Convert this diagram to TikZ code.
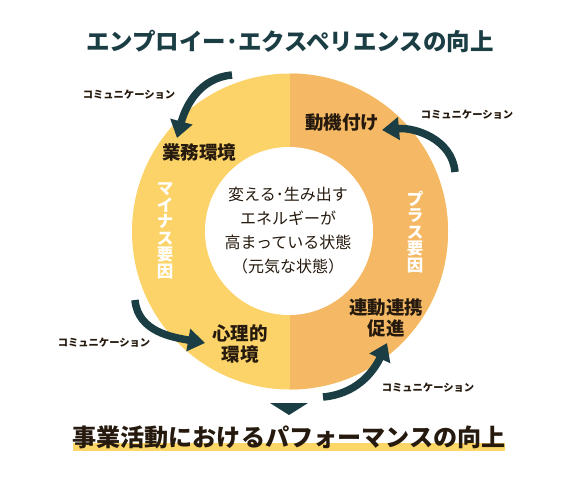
\documentclass[tikz,border=0pt]{standalone}
\usepackage{fontspec}
\setmainfont{Noto Sans CJK JP}
\usetikzlibrary{arrows.meta}
\definecolor{tealdark}{RGB}{27,61,68}
\definecolor{ringyellow}{RGB}{251,211,104}
\definecolor{ringorange}{RGB}{245,184,100}
\definecolor{inkbrown}{RGB}{38,26,14}
\definecolor{uline}{RGB}{252,214,102}
\begin{document}
\begin{tikzpicture}[x=1pt, y=1pt,
  every node/.style={align=center, inner sep=0pt},
  lbl/.style={font=\bfseries\fontsize{18.5}{21}\selectfont, text=inkbrown},
  vlbl/.style={font=\bfseries\fontsize{16.5}{16.5}\selectfont, text=white},
  comm/.style={font=\bfseries\fontsize{10.3}{12}\selectfont, text=inkbrown},
  flow/.style={draw=tealdark, line width=7.5pt, -{Triangle[length=17pt,width=22pt]}}]
\useasboundingbox (0,0) rectangle (580,-491);
% ring
\fill[ringyellow] (290,-231.5) circle[radius=158];
\begin{scope}
\clip (290,-60) rectangle (460,-400);
\fill[ringorange] (290,-231.5) circle[radius=158];
\end{scope}
\fill[white] (289,-231) circle[radius=84];
% titles
\node[font=\bfseries\fontsize{23.5}{26}\selectfont, text=tealdark] (ex) at (290,-41) {エンプロイー･エクスペリエンスの向上};
\fill[uline] (73,-443) rectangle (505,-451);
\node[font=\bfseries\fontsize{24.1}{27}\selectfont, text=inkbrown] (perf) at (289,-437) {事業活動におけるパフォーマンスの向上};
\fill[tealdark] (270,-403) -- (308,-403) -- (289,-415) -- cycle;
% center
\node[font=\fontsize{16}{24}\selectfont, text=inkbrown] (energy) at (288,-231) {変える･生み出す\\エネルギーが\\高まっている状態\\（元気な状態）};
% ring labels
\node[lbl] (work) at (199,-153) {業務環境};
\node[lbl] (motiv) at (342,-123) {動機付け};
\node[lbl] (mind) at (240,-344) {心理的\\環境};
\node[lbl] (link) at (386,-318) {連動連携\\促進};
\node[vlbl] (minus) at (165,-231) {マ\\イ\\ナ\\ス\\要\\因};
\node[vlbl] (plus) at (415,-232) {プ\\ラ\\ス\\要\\因};
% communication
\node[comm] (c1) at (129,-95) {コミュニケーション};
\node[comm] (c2) at (467,-115) {コミュニケーション};
\node[comm] (c3) at (104,-343) {コミュニケーション};
\node[comm] (c4) at (428,-388) {コミュニケーション};
\coordinate (a1) at (232,-75);
\coordinate (b1) at (177,-138);
\coordinate (a2) at (455,-172);
\coordinate (b2) at (382,-130);
\coordinate (a3) at (135,-300);
\coordinate (b3) at (205,-343);
\coordinate (a4) at (323,-397);
\coordinate (b4) at (387,-343);
\draw[flow] (a1) to[out=185,in=75] (b1);
\draw[flow] (a2) to[out=95,in=5] (b2);
\draw[flow] (a3) to[out=-85,in=170] (b3);
\draw[flow] (a4) to[out=5,in=245] (b4);
\end{tikzpicture}
\end{document}
